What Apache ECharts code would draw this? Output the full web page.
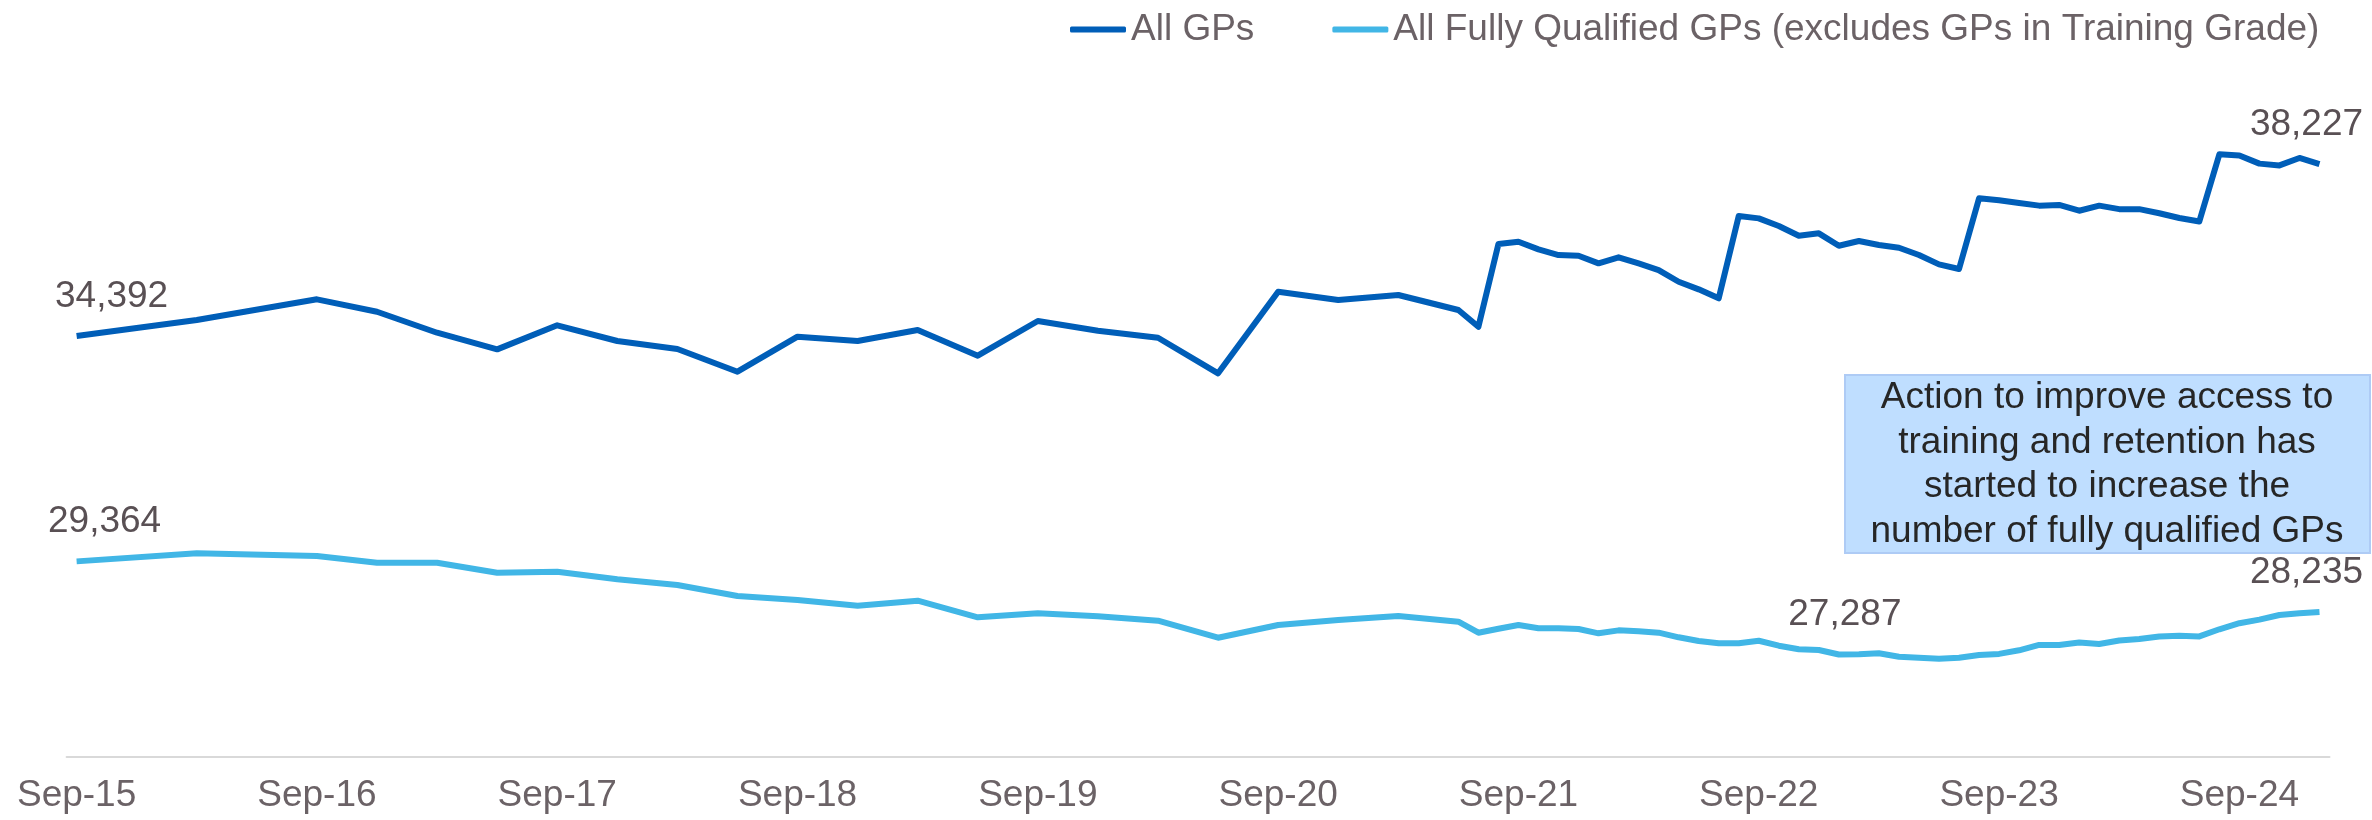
<!DOCTYPE html>
<html>
<head>
    <meta charset="UTF-8">
    <script type="text/javascript" src="https://cdn.jsdelivr.net/npm/echarts@6/dist/echarts.min.js"></script>
    <style type="text/css">
        *{
            margin: 0;
            padding: 0;
        }
        #main{
            width: 2372px;
            height: 820px;
        }
    </style>
</head>
<body>
<div id="main"></div>
<script type="text/javascript">
    // monthly category axis, Sep-15 .. Jan-25
    var monthNames = ['Jan','Feb','Mar','Apr','May','Jun','Jul','Aug','Sep','Oct','Nov','Dec'];
    var months = [];
    for (var k = 0; k < 113; k++) {
        var m = (8 + k) % 12;
        var y = 15 + Math.floor((8 + k) / 12);
        months.push(monthNames[m] + '-' + y);
    }

    // dates that have a data point (biannual, then quarterly, then monthly)
    var pointMonths = ['Sep-15','Mar-16','Sep-16','Dec-16','Mar-17','Jun-17','Sep-17','Dec-17','Mar-18','Jun-18',
        'Sep-18','Dec-18','Mar-19','Jun-19','Sep-19','Dec-19','Mar-20','Jun-20','Sep-20','Dec-20','Mar-21','Jun-21',
        'Jul-21','Aug-21','Sep-21','Oct-21','Nov-21','Dec-21','Jan-22','Feb-22','Mar-22','Apr-22','May-22','Jun-22','Jul-22',
        'Aug-22','Sep-22','Oct-22','Nov-22','Dec-22','Jan-23','Feb-23','Mar-23','Apr-23','May-23','Jun-23','Jul-23',
        'Aug-23','Sep-23','Oct-23','Nov-23','Dec-23','Jan-24','Feb-24','Mar-24','Apr-24','May-24','Jun-24','Jul-24',
        'Aug-24','Sep-24','Oct-24','Nov-24','Dec-24','Jan-25'];

    var allGPs = [34392,34748,35210,34933,34465,34094,34630,34280,34101,33595,34376,34280,34525,33952,34726,34510,34353,33559,35379,35194,35306,34971,
        34599,36443,36495,36325,36198,36183,36013,36147,36010,35863,35602,35433,35232,
        37068,37016,36845,36629,36682,36406,36510,36421,36361,36198,35990,35886,
        37463,37420,37360,37300,37315,37186,37300,37222,37222,37130,37025,36947,
        38444,38420,38237,38197,38364,38227];

    var fullyQualified = [29364,29544,29484,29335,29335,29111,29133,28964,28837,28591,28502,28375,28487,28116,28205,28140,28040,27661,27944,28056,28145,28018,
        27773,27862,27944,27871,27871,27855,27759,27825,27804,27773,27670,27588,27536,
        27536,27594,27483,27402,27387,27287,27291,27313,27237,27215,27193,27215,
        27275,27300,27380,27500,27500,27556,27522,27600,27633,27690,27706,27690,
        27849,27985,28065,28168,28208,28235];

    var noteLines = ['Action to improve access to', 'training and retention has', 'started to increase the', 'number of fully qualified GPs'];

    var FONT = 'Arial, "Liberation Sans", sans-serif';

    // which points get a value label, and the label's x offset
    function buildData(values, labelled) {
        return values.map(function (v, i) {
            var item = {value: [pointMonths[i], v]};
            if (labelled[i] !== undefined) {
                item.label = {
                    show: true,
                    position: 'top',
                    distance: 21,
                    offset: [labelled[i], 0],
                    color: '#595054',
                    fontSize: 37,
                    fontFamily: FONT,
                    formatter: function (p) { return p.value[1].toLocaleString('en-GB'); }
                };
            }
            return item;
        });
    }

    var myChart = echarts.init(document.getElementById('main'));
    var option = {
        animation: false,
        backgroundColor: '#fff',
        legend: {
            left: 1065,
            top: 6,
            icon: 'roundRect',
            itemWidth: 56,
            itemHeight: 6,
            itemGap: 78,
            textStyle: {
                color: '#6b6266',
                fontSize: 37,
                fontFamily: FONT
            },
            data: ['All GPs', 'All Fully Qualified GPs (excludes GPs in Training Grade)']
        },
        grid: {
            left: 66.6,
            right: 42.5,
            top: 84.6,
            bottom: 63
        },
        xAxis: {
            type: 'category',
            data: months,
            boundaryGap: true,
            axisLine: {lineStyle: {color: '#d9d9d9', width: 2}},
            axisTick: {interval: 11, length: 10, lineStyle: {color: '#d9d9d9', width: 2}},
            axisLabel: {
                interval: 11,
                margin: 20,
                color: '#6b6266',
                fontSize: 37,
                fontFamily: FONT
            }
        },
        yAxis: {
            type: 'value',
            min: 25000,
            max: 40000,
            show: false,
            splitLine: {show: false}
        },
        series: [
            {
                name: 'All GPs',
                type: 'line',
                color: '#005eb8',
                showSymbol: true,
                symbol: 'circle',
                symbolSize: 0.01,
                lineStyle: {width: 6, color: '#005eb8', join: 'round'},
                data: buildData(allGPs, {0: 35, 64: -13})
            },
            {
                name: 'All Fully Qualified GPs (excludes GPs in Training Grade)',
                type: 'line',
                color: '#41b6e6',
                showSymbol: true,
                symbol: 'circle',
                symbolSize: 0.01,
                lineStyle: {width: 6, color: '#41b6e6', join: 'round'},
                data: buildData(fullyQualified, {0: 28, 40: 6, 64: -13})
            }
        ],
        graphic: [
            {
                type: 'rect',
                shape: {x: 1845, y: 375, width: 2370 - 1845, height: 178},
                style: {fill: '#bfdeff', stroke: '#aecbf5', lineWidth: 2},
                z: 10
            },
            {
                type: 'text',
                x: 2107,
                y: 465,
                style: {
                    text: noteLines.join('\n'),
                    align: 'center',
                    verticalAlign: 'middle',
                    fill: '#262626',
                    fontSize: 37,
                    fontFamily: FONT,
                    lineHeight: 44.5
                },
                z: 11
            }
        ]
    };
    myChart.setOption(option);
</script>
</body>
</html>
